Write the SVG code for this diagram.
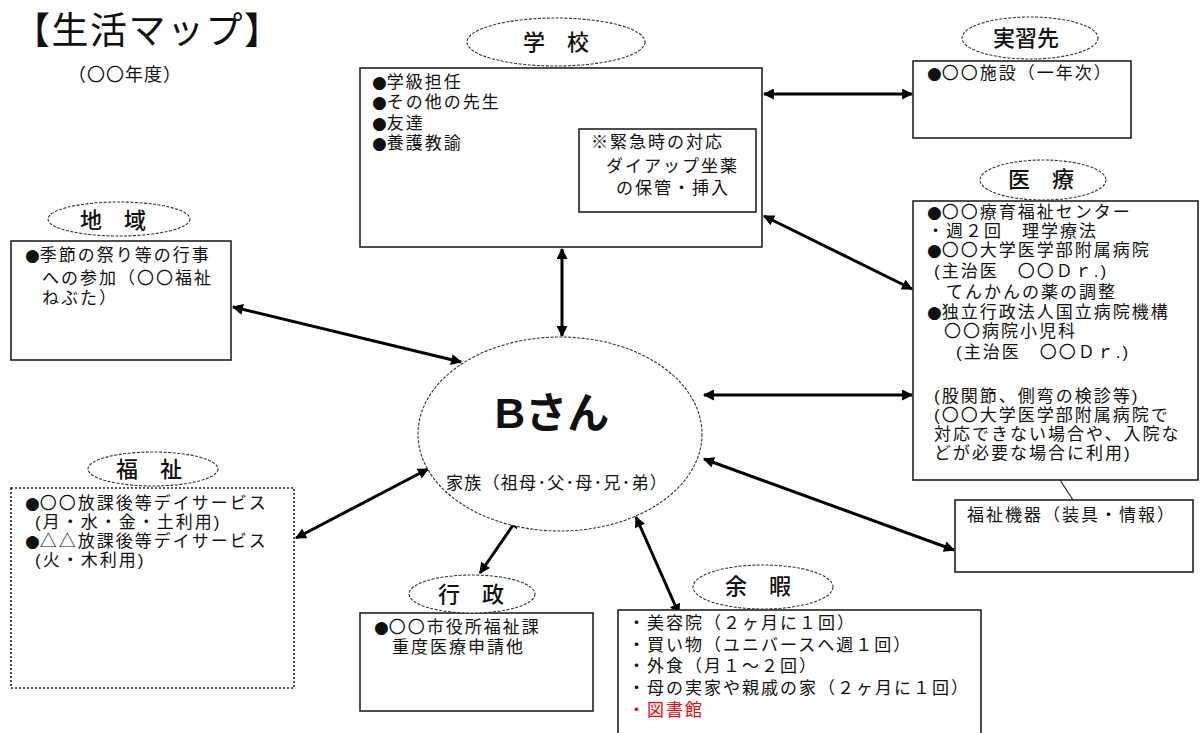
<svg xmlns="http://www.w3.org/2000/svg" width="1201" height="733" viewBox="0 0 1201 733">
<style>
text{font-family:"Liberation Sans","Noto Sans CJK JP",sans-serif;fill:#111}
.t{font-size:17px;letter-spacing:2px}
.b{font-family:"DejaVu Sans",sans-serif;letter-spacing:0}
.h{font-size:22px;text-anchor:middle;font-weight:500;font-family:"Noto Sans CJK JP",sans-serif}
.box{fill:#fff;stroke:#222;stroke-width:1.6}
.dot{fill:#fff;stroke:#222;stroke-width:1.6;stroke-dasharray:2 2}
.ov{fill:#fff;stroke:#333;stroke-width:1.1;stroke-dasharray:3 1.5}
.c{stroke:#000;stroke-width:3;fill:none;marker-start:url(#a);marker-end:url(#a)}
.thin{stroke:#222;stroke-width:1.2;fill:none}
</style>
<defs>
<marker id="a" viewBox="0 0 10 10" refX="9" refY="5" markerWidth="13" markerHeight="11" markerUnits="userSpaceOnUse" orient="auto-start-reverse"><path d="M0,0 L10,5 L0,10 z" fill="#000"/></marker>
</defs>
<rect width="1201" height="733" fill="#fff"/>

<g id="title">
<text x="13" y="44" style="font-size:37px;letter-spacing:1.5px;font-family:'Noto Sans CJK JP',sans-serif">【生活マップ】</text>
<text x="68" y="81" style="font-size:18px;letter-spacing:1px">（〇〇年度）</text>
</g>

<g id="connectors">
<line class="c" x1="562" y1="249" x2="562" y2="336"/>
<line class="c" x1="764" y1="94" x2="912" y2="94"/>
<line class="c" x1="764" y1="216" x2="912" y2="289"/>
<line class="c" x1="704" y1="395" x2="912" y2="395"/>
<line class="c" x1="233" y1="307" x2="461" y2="362"/>
<line class="c" x1="296" y1="538" x2="428" y2="469"/>
<line class="c" x1="480" y1="573" x2="518" y2="518"/>
<line class="c" x1="636" y1="517" x2="679" y2="614"/>
<line class="c" x1="704" y1="459" x2="954" y2="550"/>
<line class="thin" x1="1060" y1="480" x2="1073" y2="500"/>
</g>

<g id="school">
<rect class="box" x="360" y="68" width="402" height="179"/>
<ellipse class="ov" cx="556" cy="42" rx="89" ry="24"/>
<text class="h" x="556" y="50">学　校</text>
<text class="t" x="372" y="88"><tspan class="b">●</tspan>学級担任</text>
<text class="t" x="372" y="108"><tspan class="b">●</tspan>その他の先生</text>
<text class="t" x="372" y="129"><tspan class="b">●</tspan>友達</text>
<text class="t" x="372" y="149"><tspan class="b">●</tspan>養護教諭</text>
<rect class="box" x="579" y="129" width="177" height="83"/>
<text class="t" x="591" y="148">※緊急時の対応</text>
<text class="t" x="606" y="172">ダイアップ坐薬</text>
<text class="t" x="616" y="194">の保管・挿入</text>
</g>

<g id="jisshu">
<rect class="box" x="913" y="61" width="218" height="77"/>
<ellipse class="ov" cx="1030" cy="38" rx="68" ry="21"/>
<text class="h" x="1026" y="46">実習先</text>
<text class="t" x="927" y="79"><tspan class="b">●</tspan>〇〇施設（一年次）</text>
</g>

<g id="iryo">
<rect class="box" x="913" y="201" width="285" height="279"/>
<ellipse class="ov" cx="1043" cy="180" rx="63" ry="20"/>
<text class="h" x="1041" y="187">医　療</text>
<text class="t" x="927" y="218"><tspan class="b">●</tspan>〇〇療育福祉センター</text>
<text class="t" x="927" y="237">・週２回　理学療法</text>
<text class="t" x="927" y="256"><tspan class="b">●</tspan>〇〇大学医学部附属病院</text>
<text class="t" x="934" y="277">(主治医　〇〇Ｄｒ.)</text>
<text class="t" x="946" y="298">てんかんの薬の調整</text>
<text class="t" x="927" y="318"><tspan class="b">●</tspan>独立行政法人国立病院機構</text>
<text class="t" x="944" y="337">〇〇病院小児科</text>
<text class="t" x="956" y="358">(主治医　〇〇Ｄｒ.)</text>
<text class="t" x="934" y="402">(股関節、側弯の検診等)</text>
<text class="t" x="934" y="421">(〇〇大学医学部附属病院で</text>
<text class="t" x="934" y="440">対応できない場合や、入院な</text>
<text class="t" x="934" y="459">どが必要な場合に利用)</text>
</g>

<g id="kiki">
<rect class="box" x="955" y="500" width="238" height="72"/>
<text class="t" x="967" y="521">福祉機器（装具・情報）</text>
</g>

<g id="chiiki">
<rect class="box" x="11" y="241" width="220" height="119"/>
<ellipse class="ov" cx="119" cy="219" rx="71" ry="17"/>
<text class="h" x="113" y="228">地　域</text>
<text class="t" x="25" y="261"><tspan class="b">●</tspan>季節の祭り等の行事</text>
<text class="t" x="42" y="284">への参加（〇〇福祉</text>
<text class="t" x="42" y="304">ねぶた）</text>
</g>

<g id="fukushi">
<rect class="dot" x="11" y="488" width="283" height="200"/>
<ellipse class="ov" cx="153" cy="469" rx="65" ry="17"/>
<text class="h" x="149" y="477">福　祉</text>
<text class="t" x="25" y="509"><tspan class="b">●</tspan>〇〇放課後等デイサービス</text>
<text class="t" x="35" y="528">(月・水・金・土利用)</text>
<text class="t" x="25" y="547"><tspan class="b">●</tspan>△△放課後等デイサービス</text>
<text class="t" x="35" y="566">(火・木利用)</text>
</g>

<g id="gyosei">
<rect class="box" x="360" y="613" width="233" height="98"/>
<ellipse class="ov" cx="472" cy="594" rx="63" ry="19"/>
<text class="h" x="471" y="602">行　政</text>
<text class="t" x="374" y="633"><tspan class="b">●</tspan>〇〇市役所福祉課</text>
<text class="t" x="392" y="653">重度医療申請他</text>
</g>

<g id="yoka">
<rect class="box" x="618" y="610" width="363" height="130"/>
<ellipse class="ov" cx="763" cy="587" rx="70" ry="22"/>
<text class="h" x="758" y="594">余　暇</text>
<text class="t" x="628" y="629">・美容院（２ヶ月に１回）</text>
<text class="t" x="628" y="651">・買い物（ユニバースへ週１回）</text>
<text class="t" x="628" y="672">・外食（月１～２回）</text>
<text class="t" x="628" y="694">・母の実家や親戚の家（２ヶ月に１回）</text>
<text class="t" x="628" y="716" style="fill:#f00">・図書館</text>
</g>

<g id="center">
<ellipse class="ov" cx="560" cy="434" rx="142" ry="97"/>
<text x="552" y="428" style="font-size:42px;font-weight:bold;text-anchor:middle">Bさん</text>
<text x="557" y="489" style="font-size:17px;letter-spacing:1.3px;text-anchor:middle">家族（祖母･父･母･兄･弟）</text>
</g>
</svg>
